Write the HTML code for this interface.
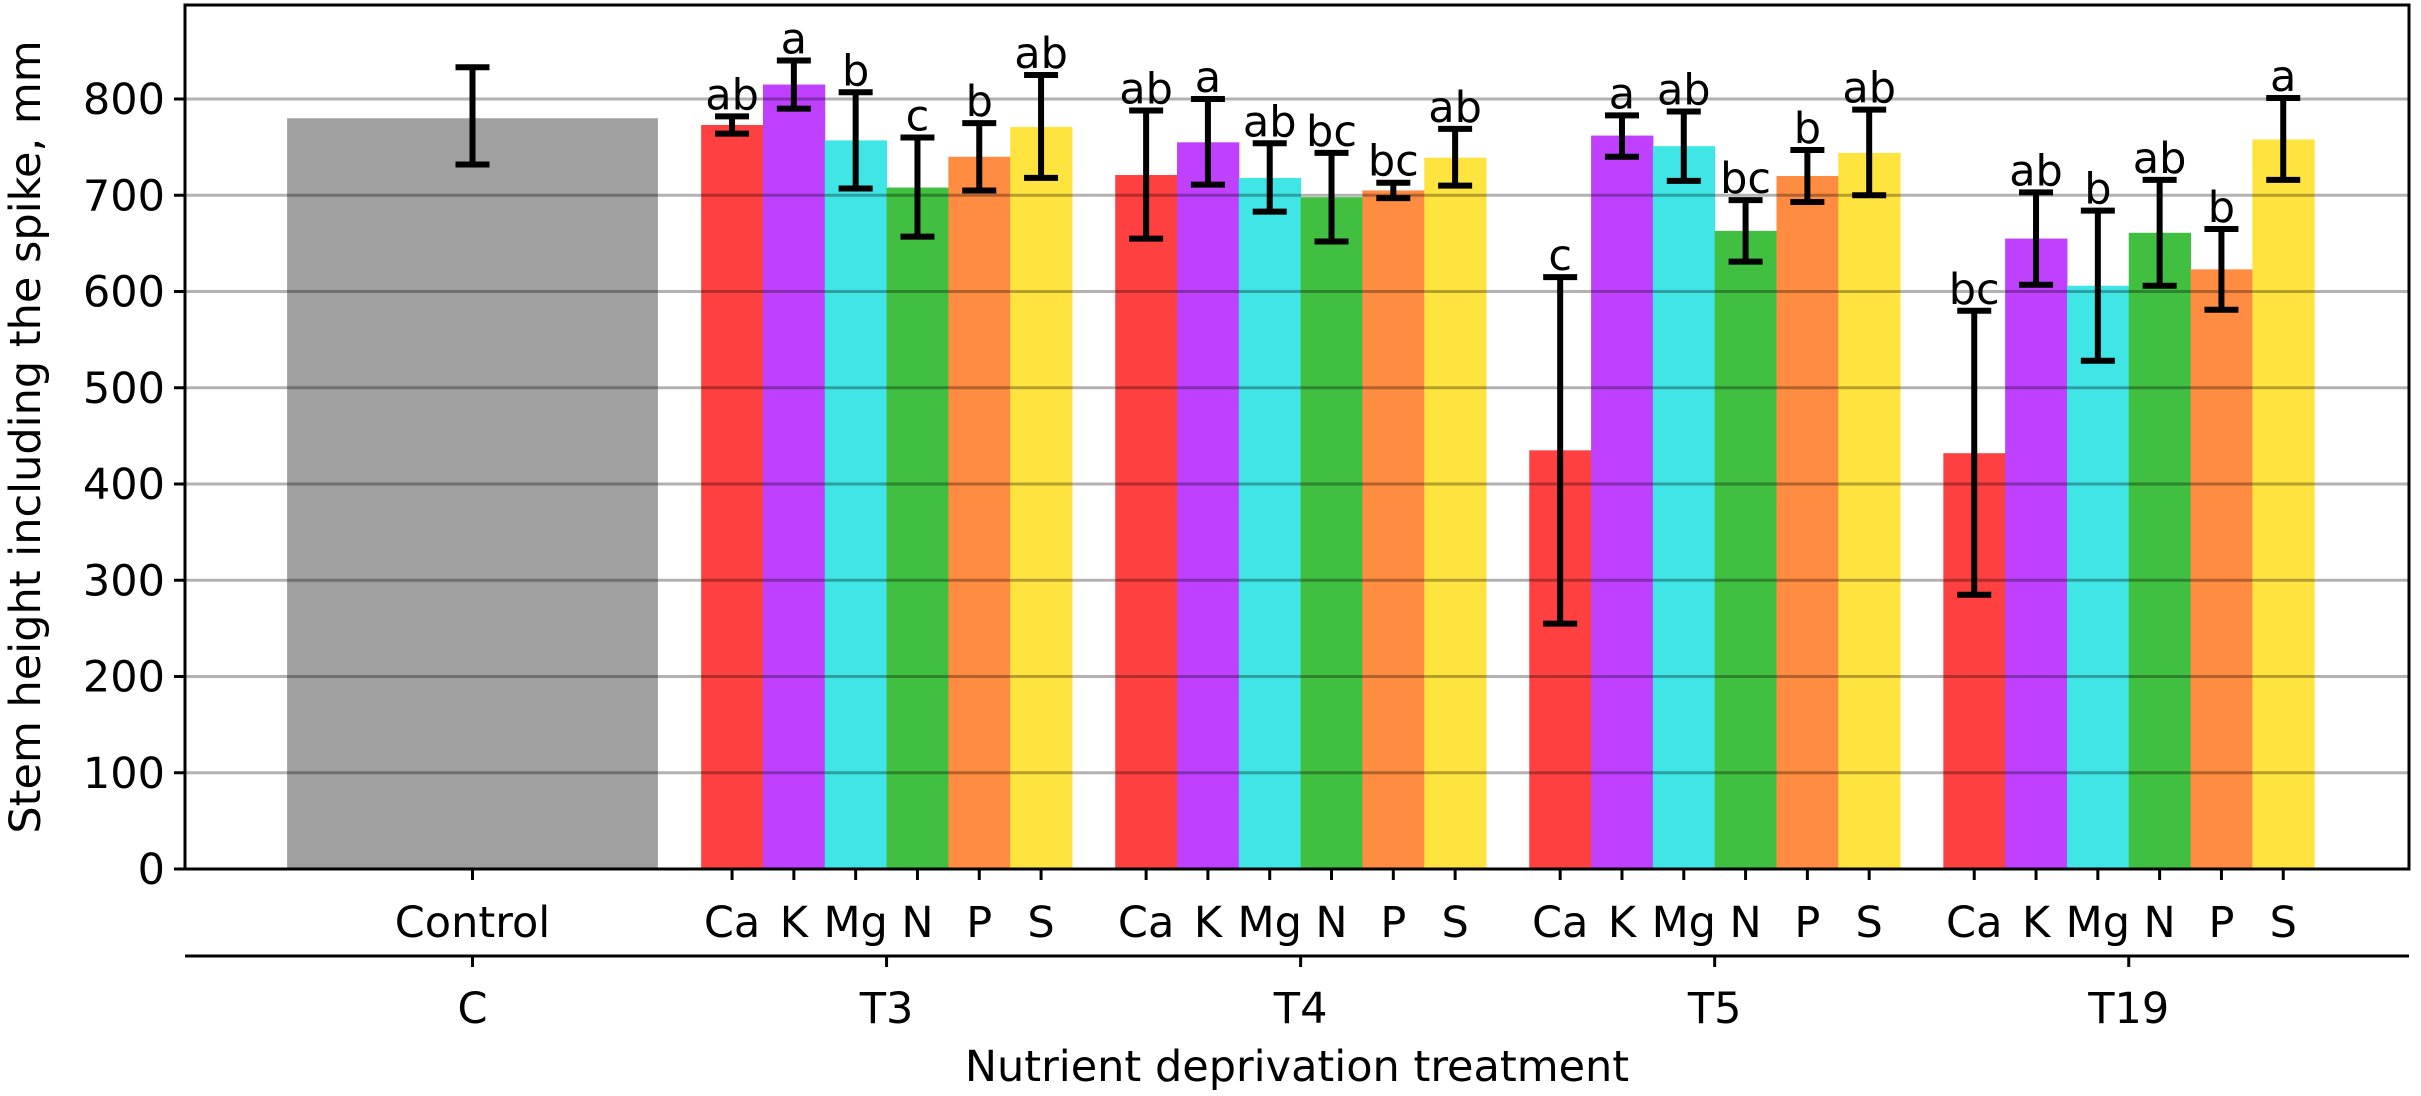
<!DOCTYPE html>
<html><head><meta charset="utf-8"><style>
body{margin:0;background:#fff}
svg{display:block;font-family:"DejaVu Sans","Liberation Sans",sans-serif}
</style></head><body>
<svg id="chart" width="2421" height="1096" viewBox="0 0 2421 1096" xmlns="http://www.w3.org/2000/svg"></svg>
<script>
const groups = ["T3","T4","T5","T19"];
const nutrients = ["Ca","K","Mg","N","P","S"];
const colors = ["#ff4040","#bf40ff","#40e5e5","#40bf40","#ff8c40","#ffe440"];
const controlValue = 780;
const controlErr = [732, 833];
const means = [
  [773,815,757,708,740,771],
  [721,755,718,698,705,739],
  [435,762,751,663,720,744],
  [432,655,606,661,623,758]
];
const errLow = [
  [764,790,707,657,705,718],
  [655,711,683,652,697,710],
  [255,740,715,631,693,700],
  [285,607,528,606,581,716]
];
const errHigh = [
  [782,840,807,760,775,825],
  [788,800,754,744,713,769],
  [615,783,787,695,747,789],
  [580,703,684,716,665,801]
];
const letters = [
  ["ab","a","b","c","b","ab"],
  ["ab","a","ab","bc","bc","ab"],
  ["c","a","ab","bc","b","ab"],
  ["bc","ab","b","ab","b","a"]
];
const yTicks = [0,100,200,300,400,500,600,700,800];

const svg = document.getElementById('chart');
const NS = "http://www.w3.org/2000/svg";
const L=185, R=2409, T=5, B=869;
const unit=61.8, x0=472.5, gap=6.7;
const FS=43;
const X = u => x0 + u*unit;
const Y = v => B - v*(B-99)/800;
function mk(tag, attrs, parent){const e=document.createElementNS(NS,tag);for(const k in attrs)e.setAttribute(k,attrs[k]);(parent||svg).appendChild(e);return e;}
function txt(s, attrs){const e=mk('text',attrs);e.textContent=s;return e;}

let cb = mk('rect',{x:X(-3),y:Y(controlValue),width:6*unit,height:Y(0)-Y(controlValue),fill:'#a0a0a0'});


groups.forEach((g,gi)=>{
  nutrients.forEach((n,i)=>{
    const c = gap*(gi+1) + (i-2.5);
    const r = mk('rect',{x:X(c-0.5),y:Y(means[gi][i]),width:unit+0.5,height:Y(0)-Y(means[gi][i]),fill:colors[i]});
    
    
  });
});
yTicks.forEach(v=>{
  if(v===0) return;
  const l = mk('line',{x1:L,x2:R,y1:Y(v),y2:Y(v),stroke:'rgba(0,0,0,0.3)','stroke-width':3});
  
  
});
function errbar(c, lo, hi, name){
  const g = mk('g',{stroke:'#000','stroke-width':6});
  
  
  const x = X(c);
  mk('line',{x1:x,x2:x,y1:Y(lo),y2:Y(hi)},g);
  mk('line',{x1:x-17,x2:x+17,y1:Y(lo),y2:Y(lo)},g);
  mk('line',{x1:x-17,x2:x+17,y1:Y(hi),y2:Y(hi)},g);
}
errbar(0, controlErr[0], controlErr[1], 'error-bar-control');
groups.forEach((g,gi)=>{
  nutrients.forEach((n,i)=>{
    const c = gap*(gi+1) + (i-2.5);
    errbar(c, errLow[gi][i], errHigh[gi][i], 'error-bar-'+g.toLowerCase()+'-'+n.toLowerCase());
    const t = txt(letters[gi][i],{x:X(c),y:Y(errHigh[gi][i])-7,'font-size':FS,'text-anchor':'middle',fill:'#000'});
    
    
  });
});
const fr = mk('rect',{x:L,y:T,width:R-L,height:B-T,fill:'none',stroke:'#000','stroke-width':3});


yTicks.forEach(v=>{
  mk('line',{x1:L-11,x2:L,y1:Y(v),y2:Y(v),stroke:'#000','stroke-width':3});
  const t = txt(String(v),{x:L-20,y:Y(v)+15,'font-size':FS,'text-anchor':'end',fill:'#000'});
  
  
});
function xtick(c, label, name){
  mk('line',{x1:X(c),x2:X(c),y1:B,y2:B+11,stroke:'#000','stroke-width':3});
  const t = txt(label,{x:X(c),y:937,'font-size':FS,'text-anchor':'middle',fill:'#000'});
  
  
}
xtick(0,'Control','x-tick-label-control');
groups.forEach((g,gi)=>nutrients.forEach((n,i)=>xtick(gap*(gi+1)+(i-2.5),n,'x-tick-label-'+g.toLowerCase()+'-'+n.toLowerCase())));
const sa = mk('line',{x1:L,x2:R,y1:956,y2:956,stroke:'#000','stroke-width':3});


["C"].concat(groups).forEach((g,gi)=>{
  const c = gap*gi;
  mk('line',{x1:X(c),x2:X(c),y1:956,y2:967,stroke:'#000','stroke-width':3});
  const t = txt(g,{x:X(c),y:1023,'font-size':FS,'text-anchor':'middle',fill:'#000'});
  
  
});
const xt = txt('Nutrient deprivation treatment',{x:(L+R)/2,y:1081,'font-size':FS,'text-anchor':'middle',fill:'#000'});


const yt = txt('Stem height including the spike, mm',{x:0,y:0,'font-size':FS,'text-anchor':'middle',fill:'#000',transform:'translate(40,'+((T+B)/2)+') rotate(-90)'});


</script>
</body></html>
